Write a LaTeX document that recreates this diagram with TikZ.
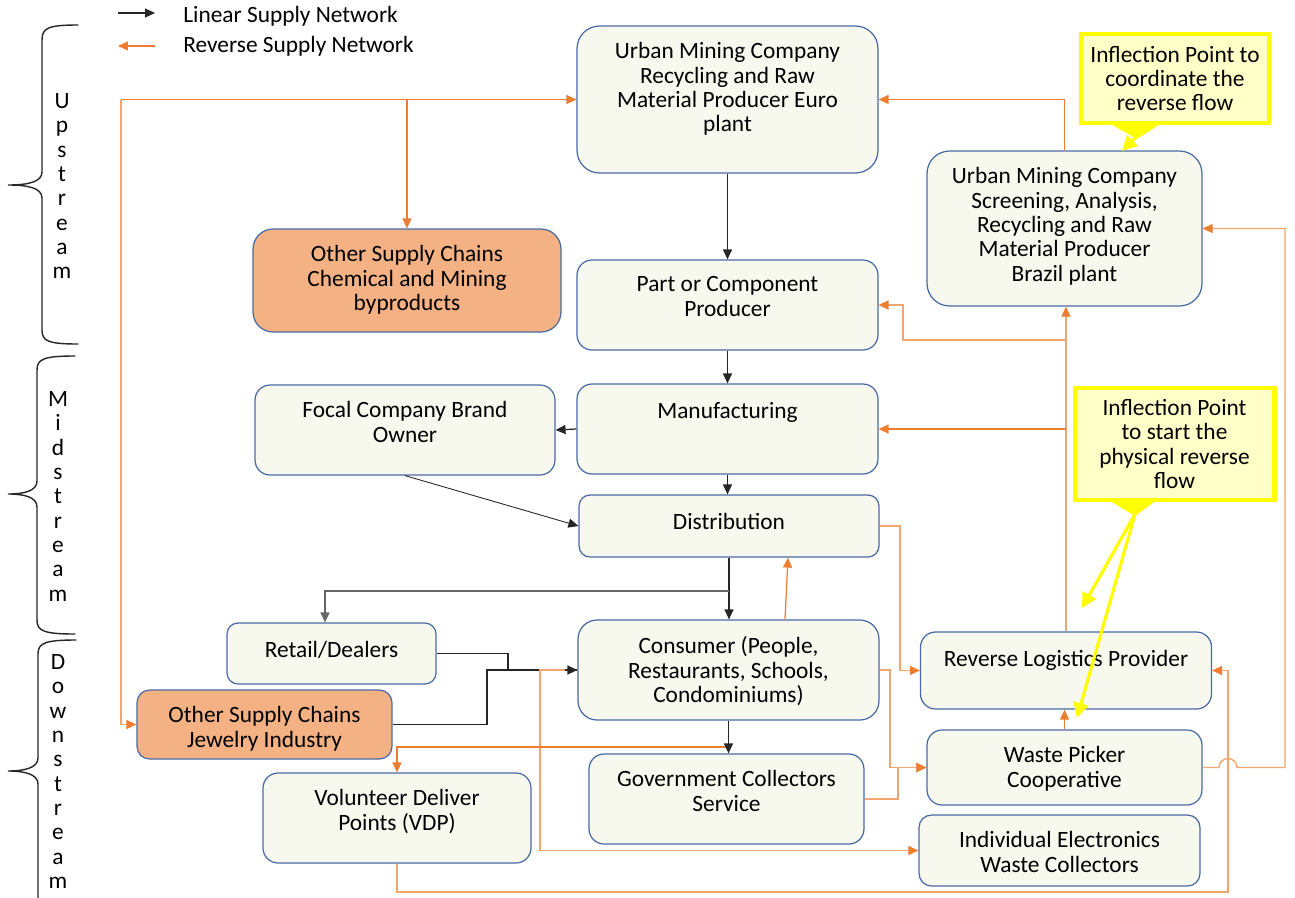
\documentclass[tikz,border=0pt]{standalone}
\usepackage{fontspec}
\setmainfont{Carlito}
\usepackage{tikz}
\usetikzlibrary{arrows.meta, positioning}

\definecolor{boxfill}{HTML}{F7F9EF}
\definecolor{boxline}{HTML}{4A6AA5}
\definecolor{orfill}{HTML}{F4B183}
\definecolor{revor}{HTML}{ED7D31}
\definecolor{revlt}{HTML}{F2A56F}
\definecolor{linblk}{HTML}{262626}
\definecolor{calfill}{HTML}{FFFFC8}
\definecolor{calline}{HTML}{FFFF00}

\newcommand{\fs}{\fontsize{13.3}{13.85}\selectfont}

\tikzset{
    box/.style={draw=boxline, fill=boxfill, rounded corners=0.3cm, line width=0.7pt, inner sep=0pt},
    orbox/.style={box, fill=orfill},
    lbl/.style={inner sep=0pt, align=center, font=\fs, execute at begin node={\rule{0pt}{10pt}}},
    lin/.style={draw=linblk, line width=0.7pt, ->, >={Triangle[length=2mm, width=1.8mm]}},
    rev/.style={draw=revor, line width=0.7pt, ->, >={Triangle[length=2mm, width=1.8mm]}},
    revlt/.style={draw=revlt, line width=0.8pt, ->, >={Triangle[length=2mm, width=1.8mm, color=revor]}},
    callout/.style={draw=calline, fill=calfill, line width=2.3pt, align=center, font=\fs, inner sep=0pt},
    pointer/.style={draw=calline, line width=1.8pt, ->, >={Triangle[length=3mm, width=3mm]}},
    brace/.style={draw=linblk, line width=0.8pt, line cap=round},
    stream/.style={lbl, anchor=north}
}

\begin{document}
\begin{tikzpicture}[x=0.02cm, y=-0.02cm]
    \useasboundingbox (0,0) rectangle (1295,897);

    % legend
    \coordinate (lgA1) at (118,13);
    \coordinate (lgA2) at (155,13);
    \coordinate (lgB1) at (155,46);
    \coordinate (lgB2) at (118,46);
    \draw[lin] (lgA1) -- (lgA2);
    \draw[rev] (lgB1) -- (lgB2);
    \node[lbl, anchor=base west] (lgA) at (183,22) {Linear Supply Network};
    \node[lbl, anchor=base west] (lgB) at (183,52) {Reverse Supply Network};

    % stream braces
    \draw[brace] (78,25) .. controls (48,25) and (42,28) .. (42,40) -- (42,172) .. controls (42,182) and (28,185) .. (8,185) .. controls (28,185) and (42,188) .. (42,198) -- (42,330) .. controls (42,341) and (48,344) .. (78,344);
    \draw[brace] (75,356) .. controls (44,356) and (37,359) .. (37,370) -- (37,481) .. controls (37,491) and (24,494) .. (8,494) .. controls (24,494) and (37,497) .. (37,507) -- (37,620) .. controls (37,631) and (44,634) .. (75,634);
    \draw[brace] (76,640) .. controls (45,640) and (38,643) .. (38,654) -- (38,758) .. controls (38,768) and (24,771) .. (8,771) .. controls (24,771) and (38,774) .. (38,784) -- (38,900);
    \node[stream] (up) at (62,93) {U\\p\\s\\t\\r\\e\\a\\m};
    \node[stream] (mid) at (58,391) {M\\i\\d\\s\\t\\r\\e\\a\\m};
    \node[stream] (down) at (58,654) {D\\o\\w\\n\\s\\t\\r\\e\\a\\m};

    % boxes
    \node[box, minimum width=6.02cm, minimum height=2.94cm, rounded corners=0.45cm] (euro) at (727.5,99.5) {};
    \node[lbl, below=0.34cm of euro.north] (euro-t) {Urban Mining Company\\Recycling and Raw\\Material Producer Euro\\plant};
    \node[orbox, minimum width=6.16cm, minimum height=2.06cm, rounded corners=0.4cm] (chem) at (407,280.5) {};
    \node[lbl, below=0.34cm of chem.north] (chem-t) {Other Supply Chains\\Chemical and Mining\\byproducts};
    \node[box, minimum width=6.02cm, minimum height=1.8cm] (part) at (727.5,305) {};
    \node[lbl, below=0.34cm of part.north] (part-t) {Part or Component\\Producer};
    \node[box, minimum width=5.5cm, minimum height=3.1cm, rounded corners=0.45cm] (brazil) at (1064.5,228.5) {};
    \node[lbl, below=0.34cm of brazil.north] (brazil-t) {Urban Mining Company\\Screening, Analysis,\\Recycling and Raw\\Material Producer\\Brazil plant};
    \node[box, minimum width=6.0cm, minimum height=1.8cm] (focal) at (405,430) {};
    \node[lbl, below=0.34cm of focal.north] (focal-t) {Focal Company Brand\\Owner};
    \node[box, minimum width=6.02cm, minimum height=1.8cm] (manuf) at (727.5,429) {};
    \node[lbl, below=0.34cm of manuf.north] (manuf-t) {Manufacturing};
    \node[box, minimum width=6.0cm, minimum height=1.24cm, rounded corners=0.22cm] (dist) at (729,526) {};
    \node[lbl, below=0.34cm of dist.north] (dist-t) {Distribution};
    \node[box, minimum width=4.18cm, minimum height=1.22cm, rounded corners=0.22cm] (retail) at (331.5,653.5) {};
    \node[lbl, below=0.34cm of retail.north] (retail-t) {Retail/Dealers};
    \node[box, minimum width=6.02cm, minimum height=2.0cm, rounded corners=0.38cm] (consumer) at (728.5,670) {};
    \node[lbl, below=0.34cm of consumer.north] (consumer-t) {Consumer (People,\\Restaurants, Schools,\\Condominiums)};
    \node[orbox, minimum width=5.1cm, minimum height=1.38cm, rounded corners=0.25cm] (jewel) at (264.5,724.5) {};
    \node[lbl, below=0.34cm of jewel.north] (jewel-t) {Other Supply Chains\\Jewelry Industry};
    \node[box, minimum width=5.36cm, minimum height=1.8cm] (vdp) at (397,818) {};
    \node[lbl, below=0.34cm of vdp.north] (vdp-t) {Volunteer Deliver\\Points (VDP)};
    \node[box, minimum width=5.5cm, minimum height=1.8cm] (gov) at (726.5,799) {};
    \node[lbl, below=0.34cm of gov.north] (gov-t) {Government Collectors\\Service};
    \node[box, minimum width=5.82cm, minimum height=1.54cm] (rl) at (1066,670.5) {};
    \node[lbl, below=0.34cm of rl.north] (rl-t) {Reverse Logistics Provider};
    \node[box, minimum width=5.5cm, minimum height=1.5cm] (wp) at (1064.5,767.5) {};
    \node[lbl, below=0.34cm of wp.north] (wp-t) {Waste Picker\\Cooperative};
    \node[box, minimum width=5.62cm, minimum height=1.42cm, rounded corners=0.25cm] (ind) at (1059.5,850.5) {};
    \node[lbl, below=0.34cm of ind.north] (ind-t) {Individual Electronics\\Waste Collectors};

    % linear supply network
    \draw[lin] (euro) -- (part);
    \draw[lin] (part) -- (manuf);
    \draw[lin] (manuf.west) -- (focal.east);
    \draw[lin] (manuf.south) -- (manuf.south |- dist.north);
    \draw[lin, line width=0.5pt] (focal.south) -- (dist.west);
    \draw[lin] (dist.south) -- (dist.south |- consumer.north);
    \coordinate (split) at (728.5,591);
    \draw[lin, draw=gray!80!black] (split) -| ([xshift=-0.13cm]retail.north);
    \draw[lin] (retail.east) -| (508,670) -- (consumer.west);
    \draw[lin, -] (jewel.east) -| (487,670) -- (consumer.west);

    % reverse supply network
    \coordinate (lft) at (121,99.5);
    \draw[rev, <-] (euro.west) -- (lft);
    \draw[revlt] (lft) |- (jewel.west);
    \draw[rev] (chem.north |- euro.west) -- (chem.north);
    \draw[rev] (brazil.north) |- (euro.east);
    \draw[revlt] (rl.north) -- (rl.north |- brazil.south);
    \coordinate (jpart) at (1066,340);
    \coordinate (jman) at (1066,429);
    \draw[revlt] (jpart) -| (903,305) -- (part.east);
    \draw[rev] (jman) -- (manuf.east);
    \draw[rev] ([xshift=1.13cm]consumer.north) -- ([xshift=1.18cm]dist.south);
    \draw[revlt] (dist.east) -| (900,670.5) -- (rl.west);
    \draw[revlt] (consumer.east) -| (890,767.5) -- (wp.west);
    \draw[revlt] (gov.east) -| (898,767.5) -- (wp.west);
    \draw[revlt] ([xshift=-0.24cm]consumer.west) -| (540,850.5) -- (ind.west);
    \draw[rev] (consumer.south) -- (728.5,747) -| (vdp.north);
    \draw[lin] (consumer.south) -- (consumer.south |- gov.north);
    \draw[revlt] (vdp.south) |- (1228,892) |- (rl.east);
    \draw[revlt] (wp.east) -- (1219,767.5) arc[start angle=180, end angle=0, radius=0.18cm] -- (1285,767.5) |- (brazil.east);
    \draw[rev] (wp.north) -- (wp.north |- rl.south);

    % inflection points
    \node[callout, minimum width=3.75cm, minimum height=1.78cm] (call1) at (1175,78.5) {Inflection Point to\\coordinate the\\reverse flow};
    \node[callout, minimum width=4.0cm, minimum height=2.24cm] (call2) at (1174.5,444) {Inflection Point\\to start the\\physical reverse\\flow};
    \fill[calline] (1107,122) -- (1137,139) -- (1163,122) -- cycle;
    \fill[calline] (1107,499) -- (1135,516) -- (1158,499) -- cycle;
    \coordinate (tail1) at (1136,137);
    \coordinate (tail2) at (1135,514);
    \coordinate (tip1) at (1122,151);
    \coordinate (tip2) at (1082,608);
    \coordinate (tip3) at (1077,718);
    \draw[pointer] (tail1) -- (tip1);
    \draw[pointer] (tail2) -- (tip2);
    \draw[pointer] (tail2) -- (tip3);
\end{tikzpicture}
\end{document}
